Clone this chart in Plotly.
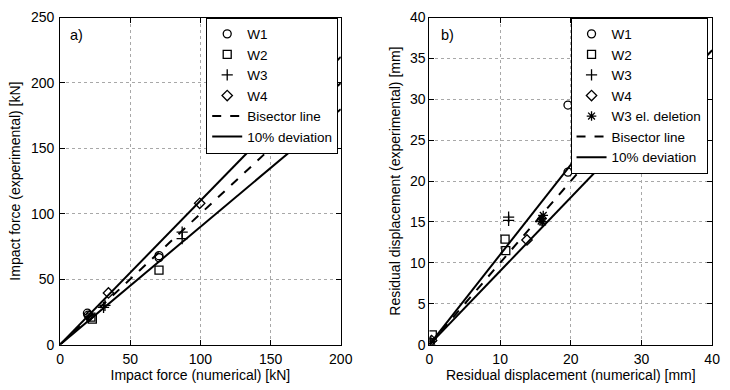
import plotly.graph_objects as go

# ---------- data: panel a (impact force, kN) ----------
a_w1_x = [19.5, 20.0, 70.5, 70.5]
a_w1_y = [24.0, 22.5, 68.0, 66.5]
a_w2_x = [23.0, 22.0, 70.5]
a_w2_y = [19.5, 21.0, 57.0]
a_w3_x = [31.0, 32.0, 87.0, 87.0]
a_w3_y = [28.5, 30.0, 86.0, 81.0]
a_w4_x = [34.5, 99.5, 21.0]
a_w4_y = [39.5, 108.0, 22.0]
a_line_x = [0, 200]

# ---------- data: panel b (residual displacement, mm) ----------
b_w1_x = [19.6, 19.6, 0.0]
b_w1_y = [29.3, 21.1, 0.3]
b_w2_x = [10.7, 10.8, 0.4, 0.1]
b_w2_y = [12.9, 11.5, 1.2, 0.2]
b_w3_x = [11.2, 11.2, 0.2]
b_w3_y = [15.6, 15.2, 0.4]
b_w4_x = [13.8, 0.3, 0.0]
b_w4_y = [12.8, 0.5, 0.0]
b_del_x = [15.9, 16.1, 15.8, 16.0, 0.0]
b_del_y = [15.4, 15.8, 15.1, 15.0, 0.0]
b_line_x = [0, 40]

dev = 0.10

FONT = "Liberation Sans, Arial, Helvetica, sans-serif"
fig = go.Figure()

def mk(sym, size=8):
    return dict(symbol=sym, size=size, color="black",
                line=dict(color="black", width=1.3))

def add_panel(xa, ya, legend, series, line_x):
    for name, xs, ys, sym in series:
        fig.add_trace(go.Scatter(x=xs, y=ys, mode="markers", name=name,
                                 marker=mk(sym), xaxis=xa, yaxis=ya,
                                 legend=legend, cliponaxis=True))
    fig.add_trace(go.Scatter(x=line_x, y=line_x, mode="lines", name="Bisector line",
                             line=dict(color="black", width=2, dash="dash"),
                             xaxis=xa, yaxis=ya, legend=legend))
    dx = list(line_x) + [None] + list(line_x)
    dy = [v * (1 + dev) for v in line_x] + [None] + [v * (1 - dev) for v in line_x]
    fig.add_trace(go.Scatter(x=dx, y=dy, mode="lines", name="10% deviation",
                             line=dict(color="black", width=2),
                             xaxis=xa, yaxis=ya, legend=legend, connectgaps=False))

add_panel("x", "y", "legend", [
    ("W1", a_w1_x, a_w1_y, "circle-open"),
    ("W2", a_w2_x, a_w2_y, "square-open"),
    ("W3", a_w3_x, a_w3_y, "cross-thin-open"),
    ("W4", a_w4_x, a_w4_y, "diamond-open"),
], a_line_x)

add_panel("x2", "y2", "legend2", [
    ("W1", b_w1_x, b_w1_y, "circle-open"),
    ("W2", b_w2_x, b_w2_y, "square-open"),
    ("W3", b_w3_x, b_w3_y, "cross-thin-open"),
    ("W4", b_w4_x, b_w4_y, "diamond-open"),
    ("W3 el. deletion", b_del_x, b_del_y, "asterisk-open"),
], b_line_x)

W, H = 730, 390
def px(x): return x / W
def py(y): return 1 - y / H

axis_common = dict(showline=True, linecolor="black", linewidth=1, mirror="ticks",
                   ticks="inside", ticklen=5, tickcolor="black",
                   showgrid=True, gridcolor="#a8a8a8", griddash="dot", gridwidth=1,
                   zeroline=False, tickfont=dict(size=14, color="black", family=FONT),
                   title_font=dict(size=14, color="black", family=FONT))

leg_common = dict(yanchor="top", xanchor="right", bgcolor="white", bordercolor="black",
                  borderwidth=1, font=dict(size=13.5, family=FONT, color="black"),
                  itemwidth=30, tracegroupgap=0)

fig.update_layout(
    width=W, height=H, margin=dict(l=0, r=0, t=0, b=0),
    paper_bgcolor="white", plot_bgcolor="white",
    font=dict(family=FONT, color="black"),
    xaxis=dict(domain=[px(57.3), px(344.3)], range=[0, 200], dtick=50, ticklabelstandoff=2,
               title=dict(text="Impact force (numerical) [kN]", standoff=0), anchor="y", **axis_common),
    yaxis=dict(domain=[py(351), py(10)], range=[0, 250], dtick=50, ticklabelstandoff=2,
               title=dict(text="Impact force (experimental) [kN]", standoff=6), anchor="x", **axis_common),
    xaxis2=dict(domain=[px(435), px(724)], range=[0, 40], dtick=10, ticklabelstandoff=2,
                title=dict(text="Residual displacement (numerical) [mm]", standoff=0), anchor="y2", **axis_common),
    yaxis2=dict(domain=[py(351), py(10)], range=[0, 40], dtick=5, ticklabelstandoff=0,
                title=dict(text="Residual displacement (experimental) [mm]", standoff=6), anchor="x2", **axis_common),
    legend=dict(x=px(341.7), y=py(10), **leg_common),
    legend2=dict(x=px(719.3), y=py(10), **leg_common),
    showlegend=True,
    annotations=[
        dict(text="a)", x=px(65), y=py(28), xref="paper", yref="paper",
             xanchor="left", yanchor="middle", showarrow=False, font=dict(size=14.5, family=FONT)),
        dict(text="b)", x=px(445), y=py(28), xref="paper", yref="paper",
             xanchor="left", yanchor="middle", showarrow=False, font=dict(size=14.5, family=FONT)),
    ],
)

fig.write_html("out.html")
